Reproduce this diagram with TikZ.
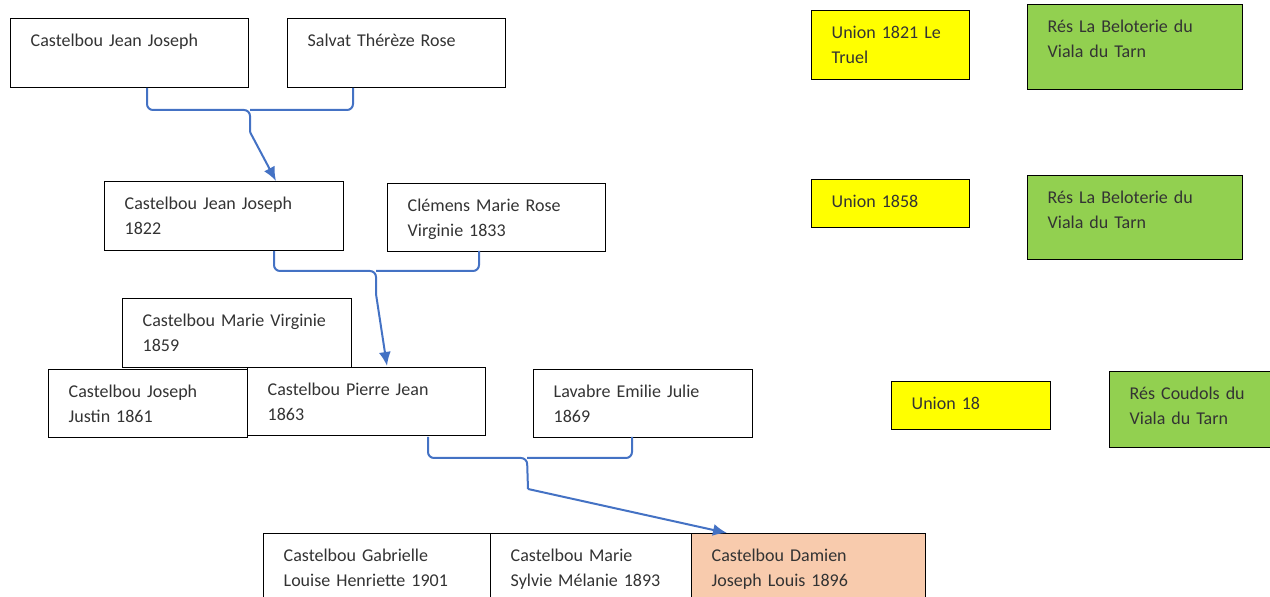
\documentclass[tikz,border=0pt]{standalone}
\usepackage{fontspec}
\setmainfont{Carlito}
\usepackage{tikz}
\usetikzlibrary{arrows.meta}
\definecolor{jaune}{HTML}{FFFF00}
\definecolor{vert}{HTML}{92D050}
\definecolor{saumon}{HTML}{F8CBAD}
\definecolor{bleu}{HTML}{4472C4}
\tikzset{
    fiche/.style={draw=black, line width=0.7pt, anchor=north west, align=left,
        inner xsep=10pt, inner ysep=6pt, text height=8pt, text=black!80,
        font=\fontsize{9}{12.5}\selectfont},
    taille/.code 2 args={\pgfmathsetlengthmacro\fichelarg{#1*0.5pt-20pt}%
        \pgfmathsetlengthmacro\fichehaut{#2*0.5pt-20pt}%
        \tikzset{text width=\fichelarg, text depth=\fichehaut}},
    accolade/.style={draw=bleu, line width=1pt, rounded corners=3pt},
    fleche/.style={-{Latex[length=7pt,width=6pt]}, draw=bleu, line width=1pt}
}

\begin{document}
\begin{tikzpicture}[x=0.5pt, y=-0.5pt]
    \useasboundingbox (0,0) rectangle (1270,597);

    \node[fiche, taille={238}{69}] (cjj) at (10,18) {Castelbou Jean Joseph};
    \node[fiche, taille={218}{69}] (str) at (287,18) {Salvat Thérèze Rose};
    \node[fiche, taille={158}{69}, fill=jaune] (u1821) at (811,10) {Union 1821 Le\\Truel};
    \node[fiche, taille={215}{85}, fill=vert] (res1) at (1027,4) {Rés La Beloterie du\\Viala du Tarn};

    \node[fiche, taille={239}{69}] (jj1822) at (104,181) {Castelbou Jean Joseph\\1822};
    \node[fiche, taille={218}{68}] (cmrv) at (387,183) {Clémens Marie Rose\\Virginie 1833};
    \node[fiche, taille={158}{48}, fill=jaune] (u1858) at (811,179) {Union 1858};
    \node[fiche, taille={215}{84}, fill=vert] (res2) at (1027,175) {Rés La Beloterie du\\Viala du Tarn};

    \node[fiche, taille={229}{69}] (cmv) at (122,298) {Castelbou Marie Virginie\\1859};
    \node[fiche, taille={199}{68}] (cjju) at (48,369) {Castelbou Joseph\\Justin 1861};
    \node[fiche, taille={238}{68}] (cpj) at (247,367) {Castelbou Pierre Jean\\1863};
    \node[fiche, taille={219}{68}] (lej) at (533,369) {Lavabre Emilie Julie\\1869};
    \node[fiche, taille={159}{48}, fill=jaune] (u18) at (891,381) {Union 18};
    \node[fiche, taille={165}{76}, fill=vert] (res3) at (1109,371) {Rés Coudols du\\Viala du Tarn};

    \node[fiche, taille={227}{80}] (cglh) at (263,533) {Castelbou Gabrielle\\Louise Henriette 1901};
    \node[fiche, taille={201}{80}] (cmsm) at (490,533) {Castelbou Marie\\Sylvie Mélanie 1893};
    \node[fiche, taille={234}{80}, fill=saumon] (cdjl) at (691,533) {Castelbou Damien\\Joseph Louis 1896};

    \coordinate (g1) at (147,88);
    \coordinate (d1) at (353,88);
    \coordinate (m1) at (250,110);
    \coordinate (p1) at (250,132);
    \coordinate (f1) at (276,181);
    \draw[accolade] (g1) |- (m1) -- (p1);
    \draw[accolade] (d1) |- (m1);
    \draw[fleche] (p1) -- (f1);

    \coordinate (g2) at (274,251);
    \coordinate (d2) at (479,251);
    \coordinate (m2) at (376,271);
    \coordinate (p2) at (376,294);
    \coordinate (f2) at (387,366);
    \draw[accolade] (g2) |- (m2) -- (p2);
    \draw[accolade] (d2) |- (m2);
    \draw[fleche] (p2) -- (f2);

    \coordinate (g3) at (428,437);
    \coordinate (d3) at (632,437);
    \coordinate (m3) at (527,458);
    \coordinate (p3) at (528,489);
    \coordinate (f3) at (727,533);
    \draw[accolade] (g3) |- (m3) -- (p3);
    \draw[accolade] (d3) |- (m3);
    \draw[fleche] (p3) -- (f3);
\end{tikzpicture}
\end{document}
